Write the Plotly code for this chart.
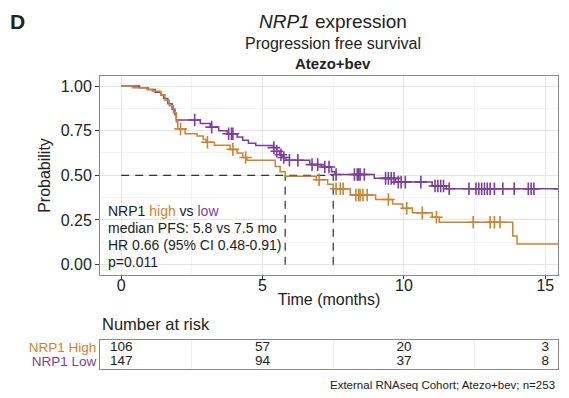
import numpy as np
import plotly.graph_objects as go

# ---------------- data ----------------
# Kaplan-Meier step points (time in months, survival probability)
high_t = [0, 0.4, 0.9, 1.1, 1.4, 1.55, 1.7, 1.85, 1.95, 2.0, 2.26, 2.68, 2.9, 3.0, 3.3, 3.85, 4.1, 4.3, 4.45,
          5.45, 5.62, 5.8, 6.9, 7.3, 7.5, 8.1, 9.0, 9.6, 9.95, 10.3, 11.0, 11.25, 13.85, 14.0, 15.6]
high_s = [1.0, 0.99, 0.98, 0.97, 0.95, 0.92, 0.89, 0.85, 0.80, 0.76, 0.733, 0.72, 0.70, 0.685, 0.668, 0.645, 0.625, 0.60, 0.585,
          0.55, 0.52, 0.495, 0.475, 0.45, 0.425, 0.39, 0.365, 0.34, 0.315, 0.29, 0.265, 0.237, 0.16, 0.115, 0.115]
high_cens = [2.1, 3.05, 3.95, 4.4, 7.0, 7.6, 7.75, 7.85, 8.3, 8.4, 8.45, 8.55, 8.7, 9.45, 10.1, 10.65, 11.15,
             12.45, 13.05, 13.2, 13.4]

low_t = [0, 0.65, 0.95, 1.2, 1.4, 1.5, 1.65, 1.8, 1.9, 1.95, 2.8, 3.15, 3.45, 3.75, 4.1, 4.3, 4.5, 4.76,
         5.38, 5.5, 5.6, 5.7, 5.83, 6.67, 7.08, 7.44, 7.56, 8.95, 9.7, 11.0, 11.5, 15.65]
low_s = [1.0, 0.99, 0.98, 0.965, 0.95, 0.93, 0.90, 0.87, 0.84, 0.81, 0.79, 0.77, 0.75, 0.733, 0.715, 0.696, 0.68, 0.667,
         0.655, 0.635, 0.615, 0.60, 0.584, 0.56, 0.547, 0.52, 0.505, 0.483, 0.462, 0.44, 0.425, 0.425]
low_cens = [2.6, 3.2, 3.8, 3.9, 3.95, 5.4, 5.5, 5.65, 5.75, 5.95, 6.25, 6.75, 6.95, 7.2, 7.35, 7.6, 8.25, 8.35, 8.4,
            8.45, 8.6, 9.35, 9.45, 9.55, 9.65, 9.8, 9.9, 10.05, 10.6, 11.1, 11.2, 11.3, 11.4, 11.6, 12.3, 12.55,
            12.65, 12.75, 12.85, 12.95, 13.05, 13.2, 13.5, 13.9, 14.4, 14.5, 14.6, 15.5]

median_high = 5.8
median_low = 7.5

risk_times = [0, 5, 10, 15]
risk_high = [106, 57, 20, 3]
risk_low = [147, 94, 37, 8]

x_ticks = [0, 5, 10, 15]
y_ticks = [0, 0.25, 0.5, 0.75, 1.0]
y_ticktext = ["0.00", "0.25", "0.50", "0.75", "1.00"]

# ---------------- style ----------------
ORANGE = "#c98436"
PURPLE = "#7a3f98"
FONT = "Liberation Sans, Arial, sans-serif"
TXT = "#222222"

W, H = 569, 398
L, R, T, B = 100, 11, 76, 29
PW, PH = W - L - R, H - T - B
main_bottom_px = 275
table_top_px = 340


def px_x(px):
    return (px - L) / PW


def px_y(py):
    return (H - B - py) / PH


def level_at(times, surv, t):
    idx = np.searchsorted(np.array(times), t, side="right") - 1
    return [surv[i] for i in idx]


fig = go.Figure()

# median dashed lines
dash_style = dict(color="#333333", width=1.2, dash="8px,6px")
fig.add_trace(go.Scatter(x=[0, median_low], y=[0.5, 0.5], mode="lines", line=dash_style,
                         showlegend=False, hoverinfo="skip"))
for m in (median_high, median_low):
    fig.add_trace(go.Scatter(x=[m, m], y=[0, 0.5], mode="lines", line=dash_style,
                             showlegend=False, hoverinfo="skip"))

# curves
for t, s, c, col, name in ((low_t, low_s, low_cens, PURPLE, "NRP1 Low"),
                           (high_t, high_s, high_cens, ORANGE, "NRP1 High")):
    fig.add_trace(go.Scatter(x=t, y=s, mode="lines", line=dict(color=col, width=1.5, shape="hv"),
                             name=name, showlegend=False))
    fig.add_trace(go.Scatter(x=c, y=level_at(t, s, c), mode="markers",
                             marker=dict(symbol="cross-thin", size=9, line=dict(color=col, width=1.6)),
                             showlegend=False, hoverinfo="skip"))

# risk table
fig.add_trace(go.Scatter(x=risk_times, y=[1] * len(risk_times), text=[str(v) for v in risk_high],
                         mode="text", textfont=dict(family=FONT, size=13.5, color=TXT),
                         xaxis="x2", yaxis="y2", showlegend=False, hoverinfo="skip"))
fig.add_trace(go.Scatter(x=risk_times, y=[0] * len(risk_times), text=[str(v) for v in risk_low],
                         mode="text", textfont=dict(family=FONT, size=13.5, color=TXT),
                         xaxis="x2", yaxis="y2", showlegend=False, hoverinfo="skip"))

xrange = [-0.75, 15.45]
main_dom = [px_y(main_bottom_px), 1]
table_dom = [0, px_y(table_top_px)]

fig.update_layout(
    width=W, height=H, margin=dict(l=L, r=R, t=T, b=B),
    paper_bgcolor="white", plot_bgcolor="white",
    font=dict(family=FONT, color=TXT),
    xaxis=dict(domain=[0, 1], range=xrange, tickvals=x_ticks, ticks="outside", ticklen=3, tickcolor="#333",
               tickfont=dict(size=16, color=TXT), ticklabelstandoff=-7,
               showline=True, mirror=True, linecolor="#8a8a8a", linewidth=1,
               showgrid=True, gridcolor="#e6e6e6", gridwidth=1, zeroline=False, anchor="y",
               minor=dict(dtick=2.5, showgrid=True, gridcolor="#f3f3f3"),
               title=dict(text="Time (months)", font=dict(size=16, color=TXT), standoff=0)),
    yaxis=dict(domain=main_dom, range=[-0.058, 1.056], tickvals=y_ticks, ticktext=y_ticktext,
               ticks="outside", ticklen=4, tickcolor="#333", tickfont=dict(size=16, color=TXT),
               showline=True, mirror=True, linecolor="#8a8a8a", linewidth=1,
               showgrid=True, gridcolor="#e6e6e6", zeroline=False, anchor="x",
               minor=dict(dtick=0.125, showgrid=True, gridcolor="#f3f3f3"),
               title=dict(text="Probability", font=dict(size=16, color=TXT), standoff=6)),
    xaxis2=dict(domain=[0, 1], range=xrange, anchor="y2", showticklabels=False, ticks="",
                showline=True, mirror=True, linecolor="#8a8a8a", linewidth=1,
                showgrid=True, gridcolor="#f0f0f0", dtick=2.5, tick0=0, zeroline=False),
    yaxis2=dict(domain=table_dom, range=[-0.5, 1.5], anchor="x2", tickvals=[1, 0],
                ticktext=[f"<span style='color:{ORANGE}'>NRP1 High</span>",
                          f"<span style='color:{PURPLE}'>NRP1 Low</span>"],
                tickfont=dict(size=13.5), ticks="", ticklen=0,
                showline=True, mirror=True, linecolor="#8a8a8a", linewidth=1,
                showgrid=False, zeroline=False),
)

ann = [
    dict(text="<b>D</b>", x=px_x(17), y=px_y(22), size=21, xanchor="center"),
    dict(text="<i>NRP1</i> expression", x=px_x(333), y=px_y(22), size=19, xanchor="center"),
    dict(text="Progression free survival", x=px_x(333), y=px_y(44), size=16, xanchor="center"),
    dict(text="<b>Atezo+bev</b>", x=px_x(333), y=px_y(63), size=15, xanchor="center"),
    dict(text=f"NRP1 <span style='color:{ORANGE}'>high</span> vs <span style='color:{PURPLE}'>low</span>",
         x=px_x(106), y=px_y(211), size=14, xanchor="left"),
    dict(text=f"median PFS: {median_high} vs {median_low} mo", x=px_x(106), y=px_y(228), size=14, xanchor="left"),
    dict(text="HR 0.66 (95% CI 0.48-0.91)", x=px_x(106), y=px_y(245), size=14, xanchor="left"),
    dict(text="p=0.011", x=px_x(106), y=px_y(262), size=14, xanchor="left"),
    dict(text="Number at risk", x=px_x(100), y=px_y(324), size=16.5, xanchor="left"),
    dict(text="External RNAseq Cohort; Atezo+bev; n=253", x=px_x(557), y=px_y(385), size=11.5, xanchor="right"),
]
for a in ann:
    fig.add_annotation(text=a["text"], x=a["x"], y=a["y"], xref="paper", yref="paper",
                       xanchor=a["xanchor"], yanchor="middle", showarrow=False,
                       font=dict(family=FONT, size=a["size"], color=TXT))

fig.write_html("out.html")
